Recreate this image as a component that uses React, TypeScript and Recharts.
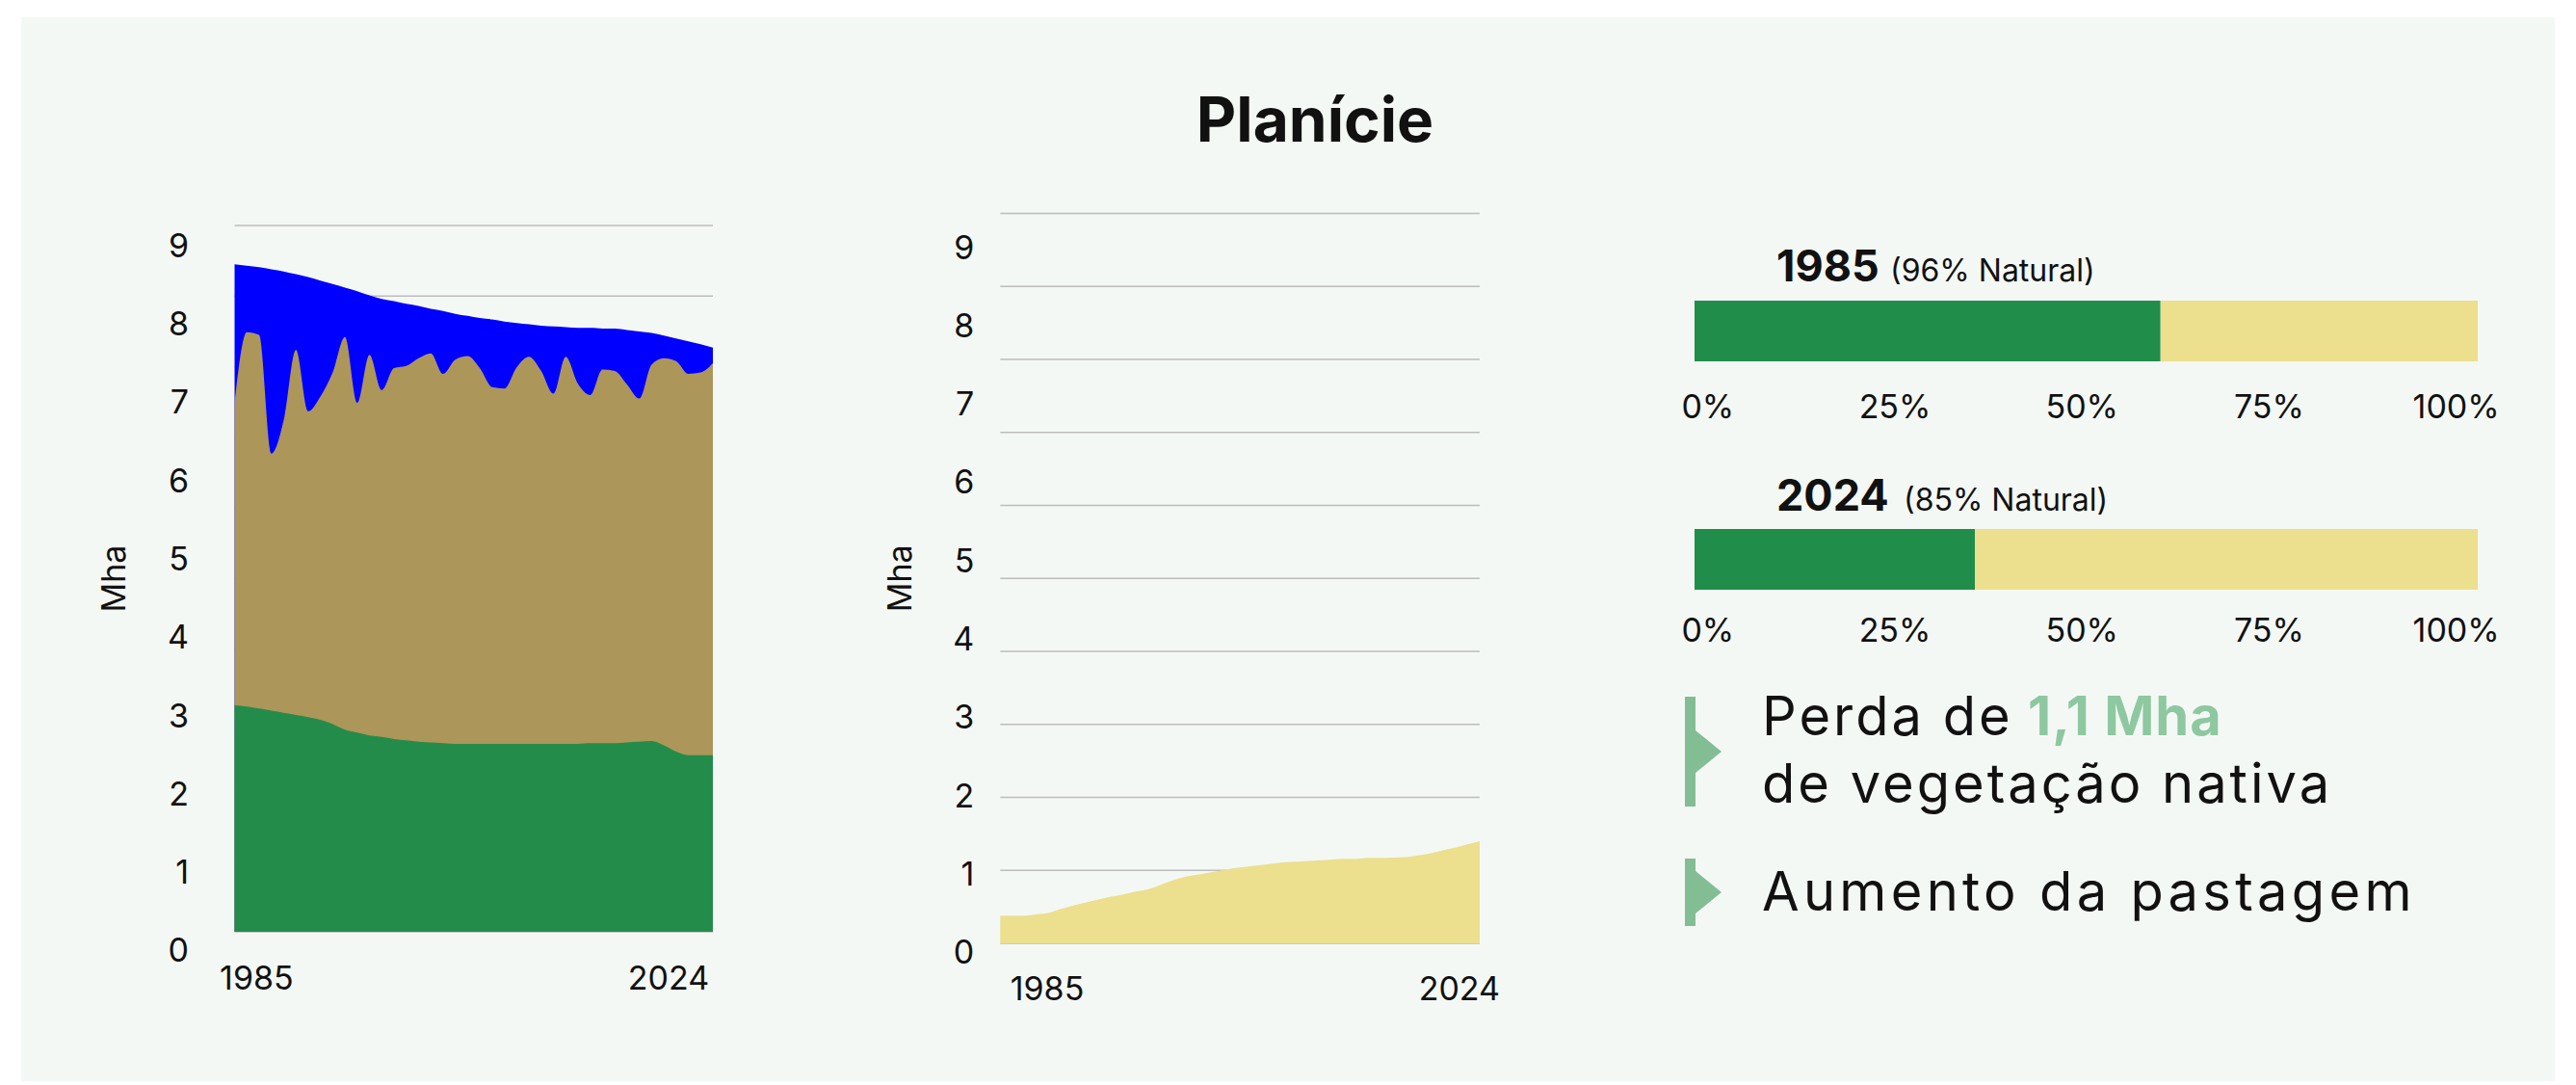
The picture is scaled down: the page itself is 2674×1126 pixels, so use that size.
import { Area, AreaChart, Bar, BarChart, CartesianGrid, XAxis, YAxis } from "recharts";

const FONT = "Inter, 'DejaVu Sans', sans-serif";

const anos = [
  1985, 1986, 1987, 1988, 1989, 1990, 1991, 1992, 1993, 1994, 1995, 1996, 1997, 1998,
  1999, 2000, 2001, 2002, 2003, 2004, 2005, 2006, 2007, 2008, 2009, 2010, 2011, 2012,
  2013, 2014, 2015, 2016, 2017, 2018, 2019, 2020, 2021, 2022, 2023, 2024,
];

// gráfico da esquerda: topo acumulado de cada classe (Mha)
const topoAgua = [
  9.45, 9.43, 9.41, 9.38, 9.35, 9.31, 9.27, 9.22, 9.17, 9.12, 9.07, 9.01, 8.96, 8.93,
  8.89, 8.86, 8.82, 8.79, 8.75, 8.72, 8.69, 8.67, 8.64, 8.62, 8.6, 8.58, 8.57, 8.56,
  8.55, 8.55, 8.54, 8.54, 8.52, 8.5, 8.48, 8.44, 8.4, 8.36, 8.32, 8.27,
];
const topoCampo = [
  7.48, 8.49, 8.45, 6.77, 7.24, 8.24, 7.37, 7.58, 7.92, 8.42, 7.49, 8.17, 7.67, 7.98,
  8.01, 8.12, 8.19, 7.9, 8.1, 8.15, 7.98, 7.71, 7.69, 7.99, 8.14, 7.94, 7.62, 8.14,
  7.76, 7.6, 7.96, 7.94, 7.75, 7.55, 8.03, 8.12, 8.08, 7.9, 7.92, 8.05,
];
const floresta = [
  3.21, 3.19, 3.16, 3.13, 3.1, 3.07, 3.04, 3.0, 2.94, 2.86, 2.82, 2.78, 2.76, 2.73,
  2.71, 2.69, 2.68, 2.67, 2.66, 2.66, 2.66, 2.66, 2.66, 2.66, 2.66, 2.66, 2.66, 2.66,
  2.66, 2.67, 2.67, 2.67, 2.68, 2.69, 2.7, 2.64, 2.55, 2.5, 2.5, 2.5,
];

// gráfico do meio: pastagem (Mha)
const pastagem = [
  0.38, 0.38, 0.38, 0.4, 0.42, 0.475, 0.52, 0.56, 0.6, 0.64, 0.67, 0.71, 0.74, 0.8,
  0.86, 0.91, 0.94, 0.97, 1.0, 1.03, 1.05, 1.07, 1.09, 1.11, 1.12, 1.13, 1.14, 1.15,
  1.16, 1.16, 1.17, 1.17, 1.175, 1.18, 1.205, 1.235, 1.275, 1.31, 1.355, 1.4,
];

// barras
const barAnos = ["1985", "2024"];
const barNatural = ["(96% Natural)", "(85% Natural)"];
const barVerde = [59.5, 35.8];
const barAmarelo = [40.5, 64.2];

const ticksY = [0, 1, 2, 3, 4, 5, 6, 7, 8, 9];
const grade = [1, 2, 3, 4, 5, 6, 7, 8, 9, 10];
const ticksAno = [1985, 2024];
const ticksPct = [0, 25, 50, 75, 100];

const dadosUso = anos.map((ano, i) => ({
  ano,
  agua: topoAgua[i],
  campo: topoCampo[i],
  floresta: floresta[i],
}));
const dadosPastagem = anos.map((ano, i) => ({ ano, pastagem: pastagem[i] }));

const tickStyle = { fontSize: 34, fill: "#111", fontFamily: FONT };

function UsoChart() {
  return (
    <div style={{ position: "absolute", left: 60, top: 200 }}>
      <AreaChart
        width={700}
        height={847}
        data={dadosUso}
        margin={{ top: 34, right: 20, bottom: 0, left: 33.5 }}
      >
        <CartesianGrid vertical={false} stroke="#bcbcbc" strokeWidth={1.5} />
        <XAxis dataKey="ano" type="number" domain={[1985, 2024]} height={0} hide />
        <XAxis
          xAxisId="lbl"
          dataKey="ano"
          type="number"
          domain={[1982.91, 2028.2]}
          allowDataOverflow
          ticks={ticksAno}
          interval={0}
          axisLine={false}
          tickLine={false}
          tickSize={0}
          tickMargin={36}
          height={80}
          tick={tickStyle}
        />
        <YAxis type="number" domain={[0, 10]} ticks={grade} width={0} hide />
        <YAxis
          yAxisId="lbl"
          type="number"
          domain={[0, 9.018]}
          allowDataOverflow
          ticks={ticksY}
          interval={0}
          axisLine={false}
          tickLine={false}
          tickSize={0}
          tickMargin={47.5}
          width={150}
          tick={{ ...tickStyle, dy: 19.4 }}
          label={{
            value: "Mha",
            angle: -90,
            position: "insideLeft",
            offset: 24.5,
            style: { textAnchor: "middle", fontSize: 34, fill: "#111", fontFamily: FONT },
          }}
        />
        <Area dataKey="agua" type="monotone" fill="#0000ff" fillOpacity={1} stroke="none" dot={false} activeDot={false} isAnimationActive={false} />
        <Area dataKey="campo" type="monotone" fill="#ac9659" fillOpacity={1} stroke="none" dot={false} activeDot={false} isAnimationActive={false} />
        <Area dataKey="floresta" type="monotone" fill="#238c4b" fillOpacity={1} stroke="none" dot={false} activeDot={false} isAnimationActive={false} />
      </AreaChart>
    </div>
  );
}

function PastagemChart() {
  return (
    <div style={{ position: "absolute", left: 880, top: 180 }}>
      <AreaChart
        width={676}
        height={879}
        data={dadosPastagem}
        margin={{ top: 41.5, right: 20, bottom: 0, left: 38.3 }}
      >
        <CartesianGrid vertical={false} stroke="#bcbcbc" strokeWidth={1.5} />
        <XAxis dataKey="ano" type="number" domain={[1985, 2024]} height={0} hide />
        <XAxis
          xAxisId="lbl"
          dataKey="ano"
          type="number"
          domain={[1980.56, 2025.93]}
          allowDataOverflow
          ticks={ticksAno}
          interval={0}
          axisLine={false}
          tickLine={false}
          tickSize={0}
          tickMargin={34.4}
          height={80}
          tick={tickStyle}
        />
        <YAxis type="number" domain={[0, 10]} ticks={grade} width={0} hide />
        <YAxis
          yAxisId="lbl"
          type="number"
          domain={[0, 9.32]}
          allowDataOverflow
          ticks={ticksY}
          interval={0}
          axisLine={false}
          tickLine={false}
          tickSize={0}
          tickMargin={27}
          width={120}
          tick={{ ...tickStyle, dy: 9 }}
          label={{
            value: "Mha",
            angle: -90,
            position: "insideLeft",
            offset: 15.3,
            style: { textAnchor: "middle", fontSize: 34, fill: "#111", fontFamily: FONT },
          }}
        />
        <Area dataKey="pastagem" type="monotone" fill="#ecdf8e" fillOpacity={1} stroke="none" dot={false} activeDot={false} isAnimationActive={false} />
      </AreaChart>
    </div>
  );
}

function BarraAno({ i, top, tickMargin }: { i: number; top: number; tickMargin: number }) {
  const data = [{ ano: barAnos[i], nativa: barVerde[i], outros: barAmarelo[i] }];
  return (
    <div style={{ position: "absolute", left: 1709, top }}>
      <BarChart
        layout="vertical"
        width={913}
        height={143}
        data={data}
        margin={{ top: 0, right: 50, bottom: 0, left: 50 }}
        barCategoryGap={0}
      >
        <XAxis type="number" domain={[0, 100]} height={0} hide />
        <XAxis
          xAxisId="lbl"
          type="number"
          domain={[-1.78, 102.88]}
          allowDataOverflow
          ticks={ticksPct}
          interval={0}
          tickFormatter={(v) => `${v}%`}
          axisLine={false}
          tickLine={false}
          tickSize={0}
          tickMargin={tickMargin}
          height={80}
          tick={tickStyle}
        />
        <YAxis type="category" dataKey="ano" width={0} hide />
        <Bar dataKey="nativa" stackId="a" fill="#218d4b" isAnimationActive={false} />
        <Bar dataKey="outros" stackId="a" fill="#ecdf8e" isAnimationActive={false} />
      </BarChart>
    </div>
  );
}

function Marcador({ y0, y1, tip }: { y0: number; y1: number; tip: number }) {
  return (
    <g fill="#83bd94">
      <rect x={1749} y={y0} width={11} height={y1 - y0} />
      <polygon points={`1760,${tip - 22} 1787,${tip} 1760,${tip + 22}`} />
    </g>
  );
}

export default function App() {
  const txt = { fontFamily: FONT, fill: "#111" };
  return (
    <div
      style={{
        position: "absolute",
        left: 0,
        top: 0,
        width: 2674,
        height: 1126,
        background: "#fff",
        overflow: "hidden",
        fontFamily: FONT,
      }}
    >
      <div
        style={{
          position: "absolute",
          left: 22,
          top: 18,
          width: 2630,
          height: 1104,
          background: "#f4f8f4",
        }}
      />
      <svg
        width={2674}
        height={1126}
        style={{ position: "absolute", left: 0, top: 0 }}
      >
        <text x={1365} y={147} textAnchor="middle" fontSize={64} fontWeight={700} {...txt}>
          Planície
        </text>

        <text x={1844} y={292} fontSize={45} fontWeight={700} {...txt}>
          {barAnos[0]}
        </text>
        <text x={1962} y={292} fontSize={32} {...txt}>
          {barNatural[0]}
        </text>
        <text x={1844} y={530} fontSize={45} fontWeight={700} {...txt}>
          {barAnos[1]}
        </text>
        <text x={1976} y={530} fontSize={32} {...txt}>
          {barNatural[1]}
        </text>

        <Marcador y0={723} y1={837} tip={780} />
        <Marcador y0={891} y1={961} tip={926} />
        <text x={1829} y={763} fontSize={56} letterSpacing={3} {...txt}>
          Perda de
        </text>
        <text x={2105} y={763} fontSize={56} fontWeight={700} letterSpacing={1} fontFamily={FONT} fill="#8dc8a0">
          1,1 Mha
        </text>
        <text x={1829} y={833} fontSize={56} letterSpacing={3} {...txt}>
          de vegetação nativa
        </text>
        <text x={1829} y={945} fontSize={56} letterSpacing={4.3} {...txt}>
          Aumento da pastagem
        </text>
      </svg>

      <UsoChart />
      <PastagemChart />
      <BarraAno i={0} top={312} tickMargin={35} />
      <BarraAno i={1} top={549} tickMargin={30} />
    </div>
  );
}
